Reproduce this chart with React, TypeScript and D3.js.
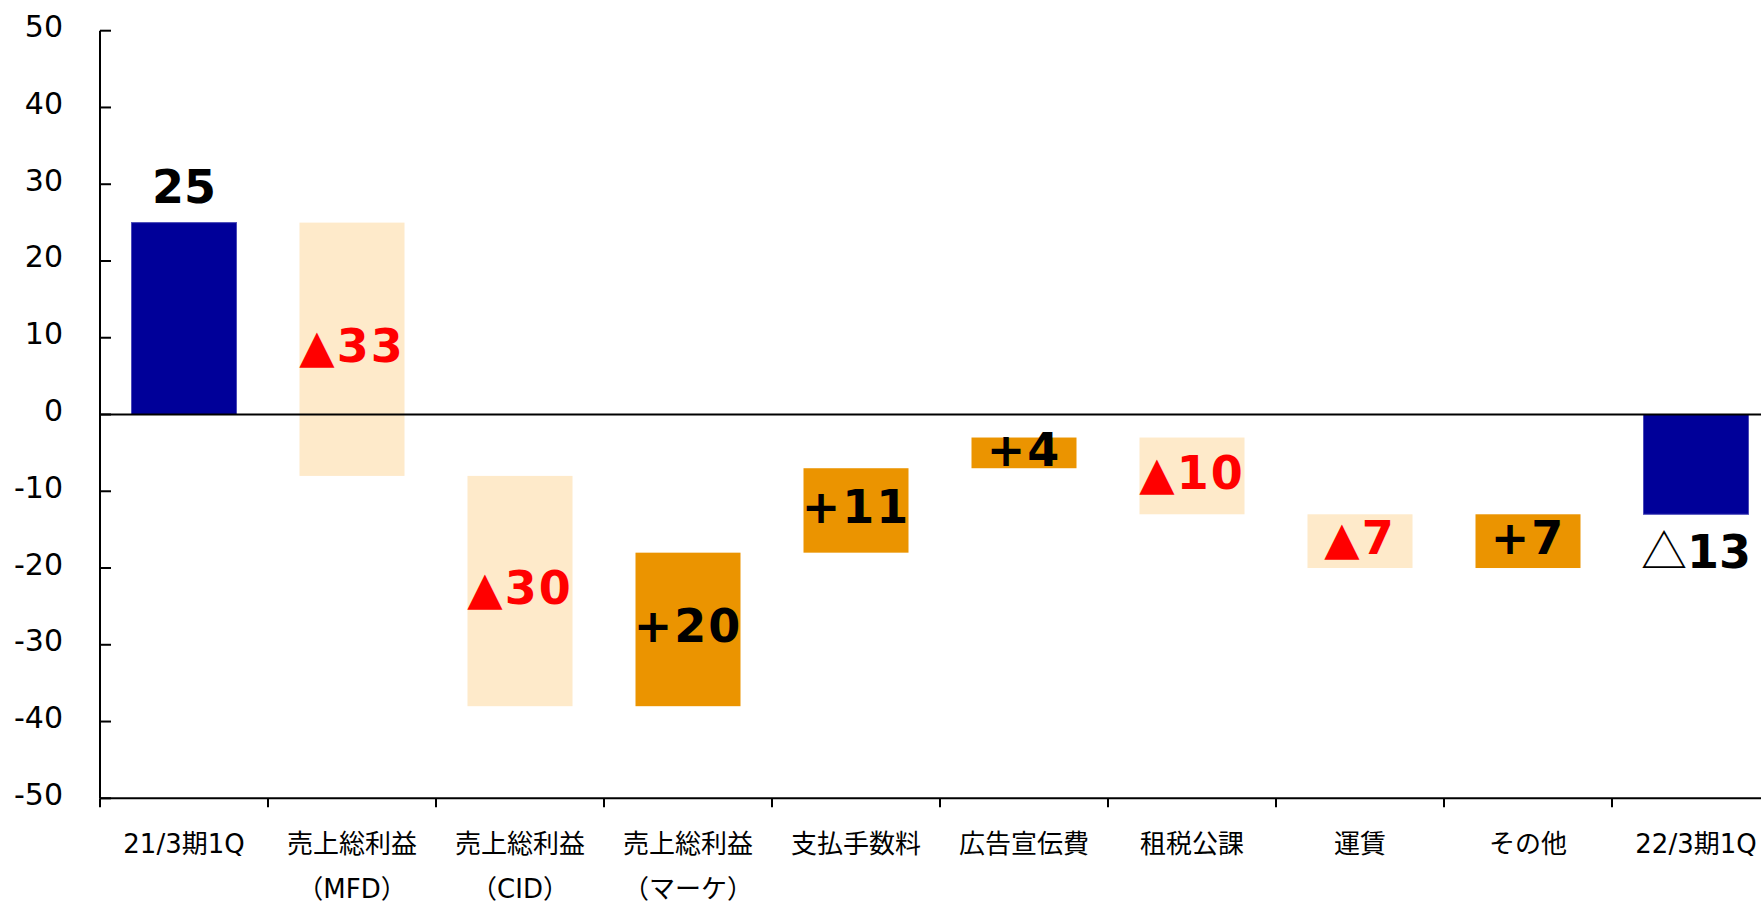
import React from "react";
import * as d3 from "d3";

// ---- data ----
const categories: string[] = [
  "21/3期1Q",
  "売上総利益\n（MFD）",
  "売上総利益\n（CID）",
  "売上総利益\n（マーケ）",
  "支払手数料",
  "広告宣伝費",
  "租税公課",
  "運賃",
  "その他",
  "22/3期1Q",
];
// first and last are totals, others are changes
const stepValues: number[] = [25, -33, -30, 20, 11, 4, -10, -7, 7, -13];
const stepKinds: string[] = [
  "total", "delta", "delta", "delta", "delta", "delta", "delta", "delta", "delta", "total",
];
const yTicks: number[] = [-50, -40, -30, -20, -10, 0, 10, 20, 30, 40, 50];

const W = 1761;
const H = 906;
const FONT = "'DejaVu Sans', 'Noto Sans CJK JP', sans-serif";
const CJK = "'Noto Sans CJK JP', sans-serif";
const COLOR_TOTAL = "#000099";
const COLOR_DOWN = "#FEEACA";
const COLOR_UP = "#EB9400";

export default function App() {
  const x = d3
    .scaleBand<string>()
    .domain(categories)
    .range([100, 1780])
    .paddingInner(0.375)
    .paddingOuter(0.1875);
  const y = d3.scaleLinear().domain([-50, 50]).range([798.3, 30.7]);

  // compute waterfall segments
  let running = 0;
  const segs = stepValues.map((v, i) => {
    const kind = stepKinds[i];
    let y0: number, y1: number;
    if (kind === "total") {
      y0 = 0;
      y1 = v;
      running = v;
    } else {
      y0 = running;
      y1 = running + v;
      running = y1;
    }
    return { cat: categories[i], v, kind, y0, y1, i };
  });

  const bw = x.bandwidth();
  const labelSize = 46;
  const cap = labelSize * 0.729;

  return (
    <svg
      width={W}
      height={H}
      style={{ position: "absolute", left: 0, top: 0, background: "#fff" }}
      fontFamily={FONT}
    >
      {/* bars */}
      {segs.map((s) => {
        const top = y(Math.max(s.y0, s.y1));
        const bot = y(Math.min(s.y0, s.y1));
        const fill = s.kind === "total" ? COLOR_TOTAL : s.v < 0 ? COLOR_DOWN : COLOR_UP;
        return (
          <rect
            key={"b" + s.i}
            x={x(s.cat)}
            y={top}
            width={bw}
            height={bot - top}
            fill={fill}
            stroke={s.kind === "total" ? "#4a4ab8" : "none"}
            strokeWidth={s.kind === "total" ? 1 : 0}
          />
        );
      })}

      {/* zero line */}
      <line x1={100} x2={1780} y1={y(0)} y2={y(0)} stroke="#000" strokeWidth={2.2} />

      {/* y axis */}
      <line x1={100} x2={100} y1={y(50)} y2={y(-50)} stroke="#000" strokeWidth={2} />
      {yTicks.map((t) => (
        <g key={"t" + t}>
          <line x1={100} x2={111} y1={y(t)} y2={y(t)} stroke="#000" strokeWidth={2} />
          <text x={63} y={y(t) + 6.5} textAnchor="end" fontSize={30} fill="#000">
            {t}
          </text>
        </g>
      ))}

      {/* x axis */}
      <line x1={100} x2={1780} y1={y(-50)} y2={y(-50)} stroke="#000" strokeWidth={2} />
      {categories.map((c, i) => {
        const left = (x(c) as number) - x.step() * x.paddingInner() / 2;
        return (
          <line
            key={"xt" + i}
            x1={left}
            x2={left}
            y1={y(-50)}
            y2={y(-50) + 9}
            stroke="#000"
            strokeWidth={2}
          />
        );
      })}
      {categories.map((c, i) => {
        const cx = (x(c) as number) + bw / 2;
        const lines = c.split("\n");
        return (
          <text key={"xl" + i} textAnchor="middle" fontSize={26} fill="#000">
            {lines.map((ln, j) => (
              <tspan key={j} x={cx} y={y(-50) + 55 + j * 45}>
                {ln}
              </tspan>
            ))}
          </text>
        );
      })}

      {/* value labels */}
      {segs.map((s) => {
        const cx = (x(s.cat) as number) + bw / 2;
        if (s.kind === "total") {
          if (s.v >= 0) {
            return (
              <text
                key={"l" + s.i}
                x={cx}
                y={y(s.v) - 20}
                textAnchor="middle"
                fontSize={labelSize}
                fontWeight="bold"
                fill="#000"
              >
                {String(s.v)}
              </text>
            );
          }
          return (
            <text
              key={"l" + s.i}
              x={cx}
              y={y(s.v) + 20 + cap}
              textAnchor="middle"
              fontSize={labelSize}
              fontWeight="bold"
              fill="#000"
            >
              <tspan fontWeight="normal" fontFamily={CJK}>△</tspan>
              {String(Math.abs(s.v))}
            </text>
          );
        }
        const mid = (y(s.y0) + y(s.y1)) / 2;
        const neg = s.v < 0;
        return (
          <text
            key={"l" + s.i}
            x={cx}
            y={mid + cap / 2 - 4}
            textAnchor="middle"
            fontSize={labelSize}
            fontWeight="bold"
            fill={neg ? "#FF0000" : "#000"}
            letterSpacing={2}
          >
            {(neg ? "▲" : "+") + Math.abs(s.v)}
          </text>
        );
      })}
    </svg>
  );
}
